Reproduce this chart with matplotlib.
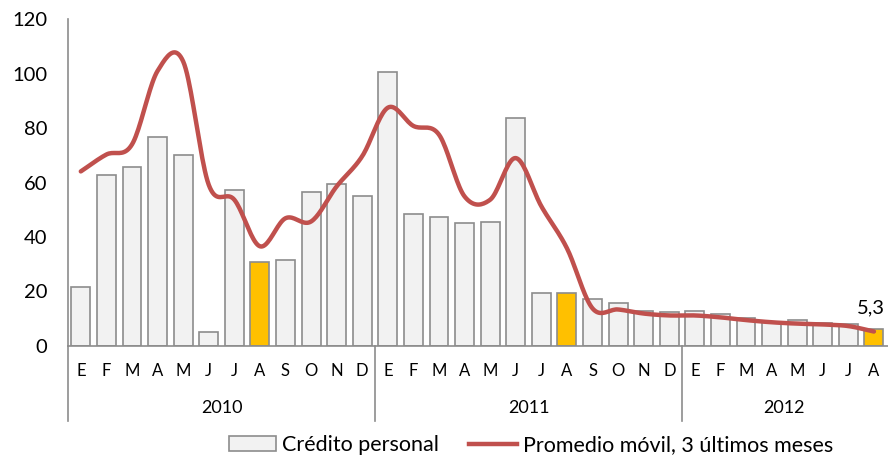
import numpy as np
import matplotlib.pyplot as plt
from matplotlib.transforms import blended_transform_factory
from matplotlib.patches import Patch
from matplotlib.lines import Line2D

plt.rcParams['font.family'] = ['Lato', 'DejaVu Sans']

# Data
years = ['2010', '2011', '2012']
months = ['E', 'F', 'M', 'A', 'M', 'J', 'J', 'A', 'S', 'O', 'N', 'D']
months_per_year = [12, 12, 8]

credito = [21.5, 62.6, 65.8, 76.9, 70.0, 5.2, 57.4, 30.7, 31.7, 56.6, 59.5, 55.2,
           100.5, 48.3, 47.4, 45.1, 45.4, 83.8, 19.4, 19.4, 17.3, 15.6, 12.9, 12.4,
           12.7, 11.8, 10.3, 8.8, 9.6, 8.5, 8.0, 6.2]
promedio = [64.1, 70.3, 74.0, 101.0, 104.5, 59.2, 53.7, 36.6, 46.9, 45.7, 58.6, 69.7,
            87.5, 80.8, 77.6, 54.9, 53.7, 69.0, 51.3, 35.9, 13.8, 13.4, 11.9, 11.2,
            11.2, 10.5, 9.5, 8.7, 8.2, 7.9, 7.3, 5.3]
highlight = [7, 19, 31]
last_label = '5,3'


def smooth_line(x, y, n=20):
    # Catmull-Rom spline, similar to Excel's smoothed line
    x = np.asarray(x, float)
    y = np.asarray(y, float)
    px = np.concatenate([[2 * x[0] - x[1]], x, [2 * x[-1] - x[-2]]])
    py = np.concatenate([[2 * y[0] - y[1]], y, [2 * y[-1] - y[-2]]])
    xs, ys = [], []
    t = np.linspace(0, 1, n, endpoint=False)
    for i in range(1, len(px) - 2):
        for p, out in ((px, xs), (py, ys)):
            p0, p1, p2, p3 = p[i - 1], p[i], p[i + 1], p[i + 2]
            out.extend(0.5 * (2 * p1 + (-p0 + p2) * t
                              + (2 * p0 - 5 * p1 + 4 * p2 - p3) * t ** 2
                              + (-p0 + 3 * p1 - 3 * p2 + p3) * t ** 3))
    xs.append(x[-1])
    ys.append(y[-1])
    return np.array(xs), np.array(ys)


fig = plt.figure(figsize=(8.88, 4.57), dpi=100)
ax = fig.add_axes([0.0766, 0.243, 0.9234, 0.715])

n = len(credito)
x = np.arange(n)
colors = ['#FFC000' if i in highlight else '#F2F2F2' for i in range(n)]
ax.bar(x, credito, width=0.74, color=colors, edgecolor='#8C8C8C', linewidth=1.2, zorder=2)

sx, sy = smooth_line(x, promedio)
ax.plot(sx, sy, color='#C0504D', linewidth=3.2, solid_capstyle='round', zorder=3)
ax.text(x[-1] - 0.1, promedio[-1] + 5.5, last_label, ha='center', va='bottom', fontsize=14.5)

ax.set_xlim(-0.5, n - 0.5 + 0.05)
ax.set_ylim(0, 120)
ax.set_yticks(range(0, 121, 20))
ax.tick_params(axis='y', length=0, labelsize=14.5, pad=15)

month_labels = []
for k in months_per_year:
    month_labels += months[:k]
ax.set_xticks(x)
ax.set_xticklabels(month_labels, fontsize=12)
ax.tick_params(axis='x', length=0, pad=12)

for s in ['top', 'right']:
    ax.spines[s].set_visible(False)
for s in ['left', 'bottom']:
    ax.spines[s].set_color('#8C8C8C')
    ax.spines[s].set_linewidth(1.2)

# year separators and labels below the axis
trans = blended_transform_factory(ax.transData, ax.transAxes)
start = 0
bounds = [-0.5]
for yr, k in zip(years, months_per_year):
    ax.text(start + k / 2 - 0.5, -0.19, yr, transform=trans, ha='center', va='center', fontsize=13)
    start += k
    bounds.append(start - 0.5)
for b in bounds[:-1]:
    ax.plot([b, b], [0, -0.23], transform=trans, color='#8C8C8C', linewidth=1.2, clip_on=False)

handles = [Patch(facecolor='#F2F2F2', edgecolor='#8C8C8C', linewidth=1.2),
           Line2D([0], [0], color='#C0504D', linewidth=3.2)]
fig.legend(handles, ['Crédito personal', 'Promedio móvil, 3 últimos meses'],
           loc='center', bbox_to_anchor=(0.598, 0.026), ncol=2, frameon=False,
           fontsize=15.5, handlelength=2.2, handletextpad=0.28, columnspacing=1.4,
           borderpad=0, borderaxespad=0)

fig.savefig('out.png', dpi=100)
